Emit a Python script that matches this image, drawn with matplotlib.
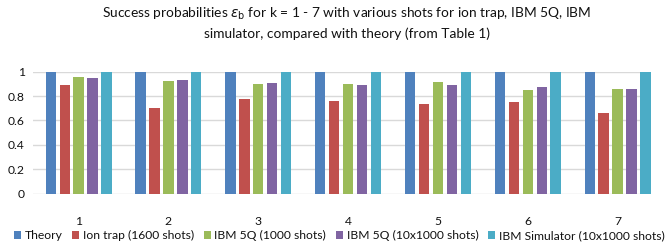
import numpy as np
import matplotlib.pyplot as plt

# datos
k = ['1', '2', '3', '4', '5', '6', '7']
series = ['Theory', 'Ion trap (1600 shots)', 'IBM 5Q (1000 shots)',
          'IBM 5Q (10x1000 shots)', 'IBM Simulator (10x1000 shots)']
theory = [0.995, 1.0, 1.0, 1.0, 1.0, 1.0, 1.0]
ion_trap = [0.89, 0.70, 0.773, 0.757, 0.738, 0.754, 0.661]
ibm5q = [0.954, 0.923, 0.899, 0.90, 0.913, 0.85, 0.858]
ibm5q_10 = [0.945, 0.932, 0.907, 0.89, 0.893, 0.874, 0.858]
simulator = [0.995, 1.0, 1.0, 1.0, 1.0, 1.0, 1.0]
colores = ['#4F81BD', '#C0504D', '#9BBB59', '#8064A2', '#4BACC6']

plt.rcParams['font.family'] = ['Lato', 'DejaVu Sans']

fig = plt.figure(figsize=(6.65, 2.47), dpi=100)
ax = fig.add_axes([0.0496, 0.216, 0.930, 0.494])

x = np.arange(len(k))
ancho = 0.115
paso = 0.155
datos = [theory, ion_trap, ibm5q, ibm5q_10, simulator]
for i, (vals, nombre) in enumerate(zip(datos, series)):
    ax.bar(x + (i - 2) * paso, vals, width=ancho, color=colores[i],
           label=nombre, clip_on=False, zorder=3)

ax.set_xlim(-0.508, 6.377)
ax.set_ylim(0, 1)
ax.set_yticks([0, 0.2, 0.4, 0.6, 0.8, 1])
ax.set_yticklabels(['0', '0.2', '0.4', '0.6', '0.8', '1'])
ax.set_xticks(x)
ax.set_xticklabels(k)
ax.tick_params(axis='both', length=0, labelsize=8.7, colors='#111111')
ax.tick_params(axis='x', pad=16)
ax.tick_params(axis='y', pad=6)
ax.grid(axis='y', color='#D9D9D9', linewidth=1, zorder=0)
for s in ax.spines.values():
    s.set_visible(False)

fig.text(0.522, 0.945, 'Success probabilities $\\epsilon_\\mathrm{b}$ for k = 1 - 7 with various shots for ion trap, IBM 5Q, IBM',
         ha='center', va='center', fontsize=9.9, color='#111111')
fig.text(0.522, 0.862, 'simulator, compared with theory (from Table 1)',
         ha='center', va='center', fontsize=9.9, color='#111111')

fig.legend(loc='center', bbox_to_anchor=(0.51, 0.045), ncol=5, frameon=False,
           fontsize=8.7, handlelength=0.6, handleheight=0.6, handletextpad=0.3,
           columnspacing=0.8, borderaxespad=0, labelcolor='#111111')

fig.savefig('out.png', dpi=100)
